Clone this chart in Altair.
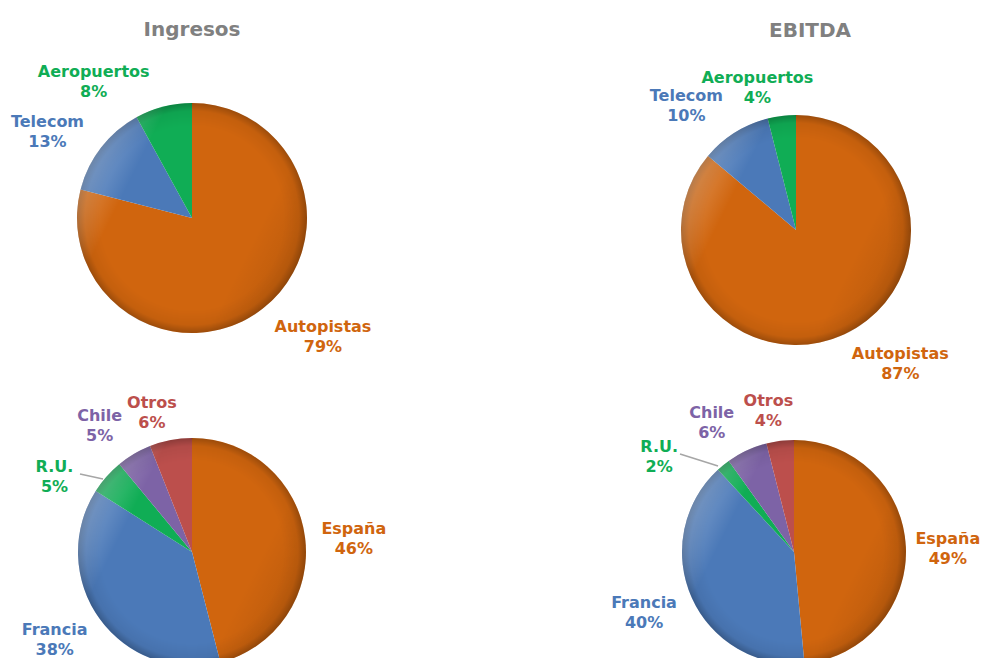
import math
import altair as alt
import pandas as pd

# ---- data ----
titles = ["Ingresos", "EBITDA"]
seg_cats = ["Autopistas", "Telecom", "Aeropuertos"]
seg_ingresos = [79, 13, 8]
seg_ebitda = [87, 10, 4]
geo_cats = ["España", "Francia", "R.U.", "Chile", "Otros"]
geo_ingresos = [46, 38, 5, 5, 6]
geo_ebitda = [49, 40, 2, 6, 4]

all_cats = seg_cats + geo_cats
slice_colors = ["#D0650E", "#4B79B8", "#10AD55", "#D0650E", "#4B79B8", "#10AD55", "#7D63A6", "#BC4F4C"]
label_colors = ["#E36C0A", "#5580BE", "#00B050", "#E36C0A", "#5580BE", "#00B050", "#8064A2", "#C0504D"]

FONT = "DejaVu Sans"

slice_scale = alt.Scale(domain=all_cats, range=slice_colors)
label_scale = alt.Scale(domain=all_cats, range=label_colors)


def frame(cats, vals):
    return pd.DataFrame({"cat": cats, "v": vals, "ord": list(range(len(cats)))})


# pie centre (x, y), radius, label nudges (dx, dy)
pies = [
    (frame(seg_cats, seg_ingresos), 184, 210, 115,
     {"Autopistas": (39, -10), "Telecom": (-26, -4), "Aeropuertos": (-61, -1)}),
    (frame(seg_cats, seg_ebitda), 788, 222, 115,
     {"Autopistas": (41, -12), "Telecom": (-30, -7), "Aeropuertos": (-20, -3)}),
    (frame(geo_cats, geo_ingresos), 184, 544, 114,
     {"España": (13, -4), "Francia": (-16, -10), "R.U.": (-25, 14), "Chile": (-16, -7), "Otros": (-12, -2)}),
    (frame(geo_cats, geo_ebitda), 786, 544, 112,
     {"España": (4, -6), "Francia": (-13, -10), "R.U.": (-40, 11), "Chile": (-19, -3), "Otros": (-7, -2)}),
]
LABEL_R = 150

layers = []
one = pd.DataFrame({"a": [1]})

for df, cx, cy, r, nudges in pies:
    arc = alt.Chart(df).mark_arc(outerRadius=r).encode(
        theta=alt.Theta("v:Q", stack=True),
        color=alt.Color("cat:N", scale=slice_scale, legend=None),
        order=alt.Order("ord:Q"),
        x=alt.value(cx),
        y=alt.value(cy),
    )
    layers.append(arc)

    # shading overlays (rim darkening + upper-left sheen)
    rim = alt.Chart(one).mark_arc(
        outerRadius=r, theta=0, theta2=2 * math.pi,
        fill=alt.RadialGradient(
            gradient="radial", x1=0.5, y1=0.5, r1=0, x2=0.5, y2=0.5, r2=0.5,
            stops=[
                alt.GradientStop(color="rgba(0,0,0,0)", offset=0),
                alt.GradientStop(color="rgba(0,0,0,0)", offset=0.8),
                alt.GradientStop(color="rgba(0,0,0,0.06)", offset=0.93),
                alt.GradientStop(color="rgba(0,0,0,0.25)", offset=1),
            ],
        ),
    ).encode(x=alt.value(cx), y=alt.value(cy))
    sheen = alt.Chart(one).mark_arc(
        outerRadius=r, theta=0, theta2=2 * math.pi,
        fill=alt.LinearGradient(
            gradient="linear", x1=0, y1=0.25, x2=1, y2=0.75,
            stops=[
                alt.GradientStop(color="rgba(255,255,255,0.35)", offset=0),
                alt.GradientStop(color="rgba(255,255,255,0)", offset=0.22),
                alt.GradientStop(color="rgba(0,0,0,0)", offset=0.75),
                alt.GradientStop(color="rgba(0,0,0,0.12)", offset=1),
            ],
        ),
    ).encode(x=alt.value(cx), y=alt.value(cy))
    layers += [rim, sheen]

    for cat, (ndx, ndy) in nudges.items():
        txt = (
            alt.Chart(df)
            .transform_joinaggregate(total="sum(v)")
            .transform_window(cum="sum(v)", sort=[alt.SortField("ord")], frame=[None, 0])
            .transform_calculate(
                mid="(datum.cum - datum.v / 2) / datum.total * 2 * PI",
                label="datum.cat + '\\n' + datum.v + '%'",
            )
            .transform_filter(alt.datum.cat == cat)
            .mark_text(
                radius=LABEL_R, dx=ndx, dy=ndy, font=FONT, fontWeight="bold",
                fontSize=16, lineBreak="\n", lineHeight=20,
            )
            .encode(
                x=alt.value(cx),
                y=alt.value(cy),
                theta=alt.Theta("mid:Q", scale=None),
                text="label:N",
                color=alt.Color("cat:N", scale=label_scale, legend=None),
            )
        )
        layers.append(txt)

# leader lines for R.U.
for (x1, y1, x2, y2) in [(72, 466, 95, 471), (672, 446, 710, 458)]:
    layers.append(
        alt.Chart(one).mark_rule(color="#A6A6A6", strokeWidth=1.5).encode(
            x=alt.value(x1), y=alt.value(y1), x2=alt.value(x2), y2=alt.value(y2)
        )
    )

# column titles
for t, tx, ty in [(titles[0], 184, 22), (titles[1], 802, 23)]:
    layers.append(
        alt.Chart(pd.DataFrame({"t": [t]})).mark_text(
            font=FONT, fontWeight="bold", fontSize=20, color="#808080"
        ).encode(text="t:N", x=alt.value(tx), y=alt.value(ty))
    )

chart = (
    alt.layer(*layers)
    .resolve_scale(theta="independent")
    .properties(width=974, height=650, padding=0, autosize=alt.AutoSizeParams(type="none"))
    .configure_view(strokeWidth=0, stroke="transparent")
)

chart.save("out.html", embed_options={"renderer": "svg", "actions": False})
